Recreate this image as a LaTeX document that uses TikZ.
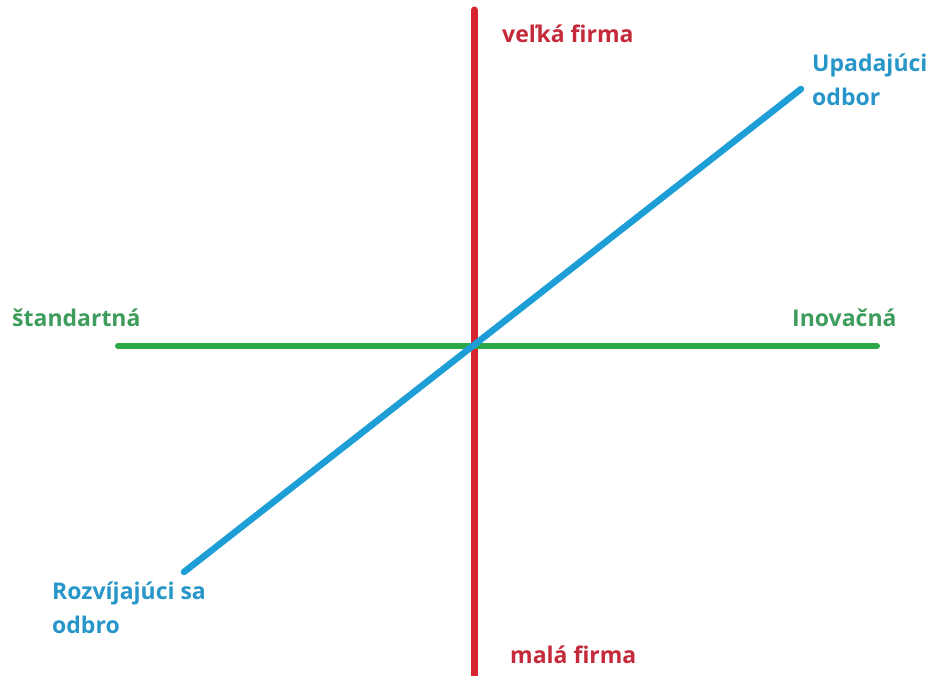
\documentclass[tikz,border=0pt]{standalone}
\usepackage{fontspec}
\setmainfont{Open Sans}
\definecolor{AxRed}{RGB}{214,36,48}
\definecolor{AxRedText}{RGB}{196,42,58}
\definecolor{AxGreen}{RGB}{44,168,72}
\definecolor{AxGreenText}{RGB}{62,156,92}
\definecolor{AxBlue}{RGB}{30,158,214}
\definecolor{AxBlueText}{RGB}{40,150,200}
\tikzset{
  axlabel/.style={anchor=base west,inner sep=0pt,font=\fontsize{23}{34}\selectfont\bfseries,align=left},
}
\begin{document}
\begin{tikzpicture}[x=1pt,y=-1pt]
      \useasboundingbox (0,0) rectangle (930,676);
      % axes
      \coordinate (top) at (474,10);
      \coordinate (bottom) at (474,680);
      \coordinate (left) at (118,346);
      \coordinate (right) at (877,346);
      \coordinate (low) at (184,572);
      \coordinate (high) at (801,89);
      \draw[AxRed,line width=7pt,line cap=round] (top) -- (bottom);
      \draw[AxGreen,line width=6pt,line cap=round] (left) -- (right);
      \draw[AxBlue,line width=6.5pt,line cap=round] (low) -- (high);
      % labels
      \node[axlabel,text=AxRedText] (big) at (502,43) {veľká firma};
      \node[axlabel,text=AxRedText] (small) at (510,663) {malá firma};
      \node[axlabel,text=AxGreenText] (std) at (12,327) {štandartná};
      \node[axlabel,text=AxGreenText] (inov) at (792,327) {Inovačná};
      \node[axlabel,text=AxBlueText] (decl) at (812,106) {Upadajúci\\odbor};
      \node[axlabel,text=AxBlueText] (grow) at (52,633) {Rozvíjajúci sa\\odbro};
    \end{tikzpicture}
\end{document}
